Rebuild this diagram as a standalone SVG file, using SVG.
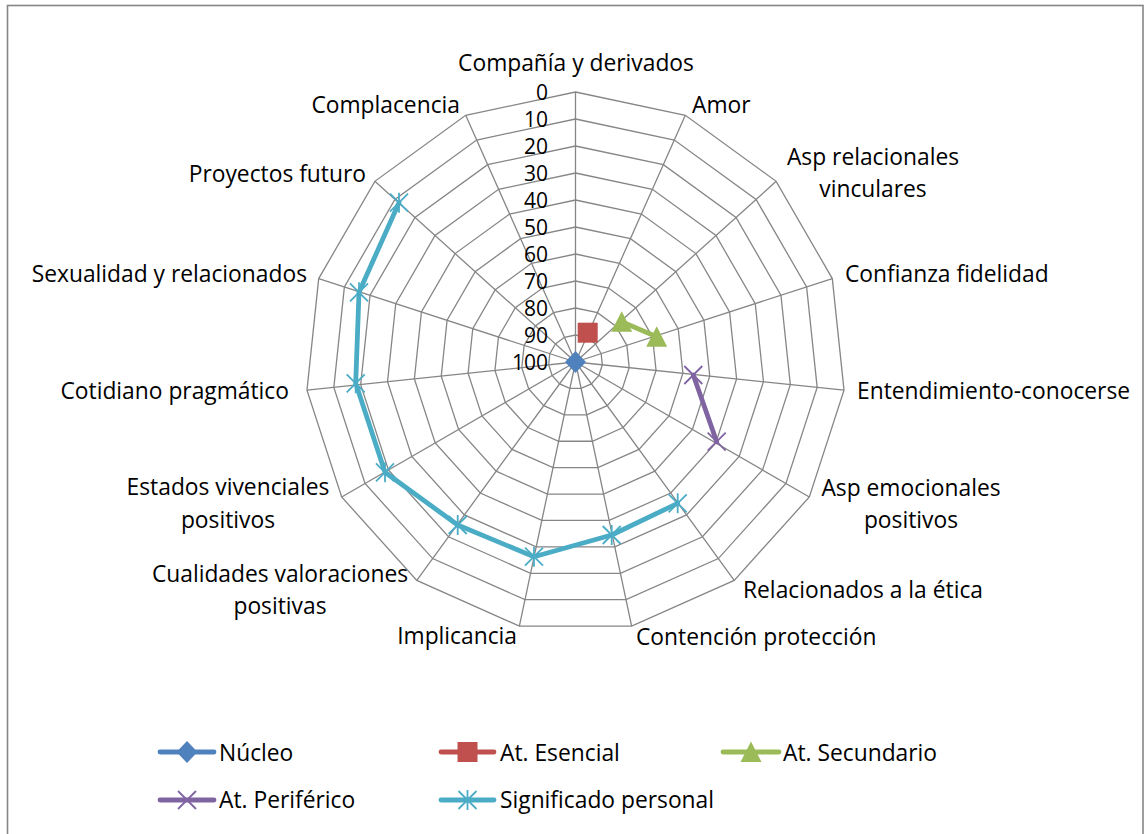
<svg xmlns="http://www.w3.org/2000/svg" xmlns:xlink="http://www.w3.org/1999/xlink" width="1148" height="834" viewBox="0 0 1148 834">
  <style>
    text { font-family: "Open Sans", "Liberation Sans", sans-serif; font-size: 22.8px; fill: #000; }
    .grid { fill: none; stroke: #868686; }
    .num { text-anchor: end; font-size: 21px; }
    .mid { text-anchor: middle; }
    .end { text-anchor: end; }
    .ser { fill: none; stroke-width: 4.8; stroke-linejoin: round; stroke-linecap: round; }
  </style>
  <defs>
    <polygon id="ring" points="0,-270 109.82,-246.66 200.65,-180.67 256.79,-83.43 268.52,28.22 233.83,135 158.7,218.43 56.14,264.1 -56.14,264.1 -158.7,218.43 -233.83,135 -268.52,28.22 -256.79,-83.43 -200.65,-180.67 -109.82,-246.66"/>
    <polygon id="m-diamond" points="0,-11 10.5,0 0,11 -10.5,0" fill="#4F81BD"/>
    <rect id="m-square" x="-10" y="-10" width="20" height="20" fill="#C0504D"/>
    <polygon id="m-tri" points="0,-10.5 10.5,10 -10.5,10" fill="#9BBB59"/>
    <path id="m-x" d="M-9,-9L9,9M9,-9L-9,9" stroke="#8064A2" stroke-width="1.8" fill="none"/>
    <path id="m-star" d="M-9,-9L9,9M9,-9L-9,9M0,-10L0,10" stroke="#4BACC6" stroke-width="1.8" fill="none"/>
  </defs>

  <rect id="frame" x="7.5" y="5.5" width="1135.5" height="840" fill="#fff" stroke="#868686" stroke-width="1.6"/>

  <g id="grid" class="grid">
    <use xlink:href="#ring" transform="translate(575.5 362) scale(1)" stroke-width="1.3"/>
    <use xlink:href="#ring" transform="translate(575.5 362) scale(0.9)" stroke-width="1.444"/>
    <use xlink:href="#ring" transform="translate(575.5 362) scale(0.8)" stroke-width="1.625"/>
    <use xlink:href="#ring" transform="translate(575.5 362) scale(0.7)" stroke-width="1.857"/>
    <use xlink:href="#ring" transform="translate(575.5 362) scale(0.6)" stroke-width="2.167"/>
    <use xlink:href="#ring" transform="translate(575.5 362) scale(0.5)" stroke-width="2.6"/>
    <use xlink:href="#ring" transform="translate(575.5 362) scale(0.4)" stroke-width="3.25"/>
    <use xlink:href="#ring" transform="translate(575.5 362) scale(0.3)" stroke-width="4.333"/>
    <use xlink:href="#ring" transform="translate(575.5 362) scale(0.2)" stroke-width="6.5"/>
    <use xlink:href="#ring" transform="translate(575.5 362) scale(0.1)" stroke-width="13"/>
    <path transform="translate(575.5 362)" stroke-width="1.3" d="M0,0L0,-270M0,0L109.82,-246.66M0,0L200.65,-180.67M0,0L256.79,-83.43M0,0L268.52,28.22M0,0L233.83,135M0,0L158.7,218.43M0,0L56.14,264.1M0,0L-56.14,264.1M0,0L-158.7,218.43M0,0L-233.83,135M0,0L-268.52,28.22M0,0L-256.79,-83.43M0,0L-200.65,-180.67M0,0L-109.82,-246.66"/>
  </g>

  <g id="axis-values">
    <text class="num" x="548" y="100">0</text>
    <text class="num" x="548" y="127">10</text>
    <text class="num" x="548" y="154">20</text>
    <text class="num" x="548" y="181">30</text>
    <text class="num" x="548" y="208">40</text>
    <text class="num" x="548" y="235">50</text>
    <text class="num" x="548" y="262">60</text>
    <text class="num" x="548" y="289">70</text>
    <text class="num" x="548" y="316">80</text>
    <text class="num" x="548" y="343">90</text>
    <text class="num" x="548" y="370">100</text>
  </g>

  <g id="category-labels">
    <text class="mid" x="576" y="71">Compañía y derivados</text>
    <text x="692" y="112.5">Amor</text>
    <text class="mid" x="873" y="165">Asp relacionales</text>
    <text class="mid" x="873" y="197">vinculares</text>
    <text x="845" y="282">Confianza fidelidad</text>
    <text x="857" y="399">Entendimiento-conocerse</text>
    <text class="mid" x="911" y="496">Asp emocionales</text>
    <text class="mid" x="911" y="527.5">positivos</text>
    <text x="743" y="598">Relacionados a la ética</text>
    <text x="636" y="645">Contención protección</text>
    <text class="end" x="517" y="644">Implicancia</text>
    <text class="mid" x="280" y="582">Cualidades valoraciones</text>
    <text class="mid" x="280" y="614">positivas</text>
    <text class="mid" x="228" y="494.5">Estados vivenciales</text>
    <text class="mid" x="228" y="528">positivos</text>
    <text class="end" x="289" y="399">Cotidiano pragmático</text>
    <text class="end" x="307" y="282">Sexualidad y relacionados</text>
    <text class="end" x="366" y="182">Proyectos futuro</text>
    <text class="end" x="460" y="112.5">Complacencia</text>
  </g>

  <g id="series-nucleo">
    <use xlink:href="#m-diamond" x="575.5" y="362"/>
  </g>
  <g id="series-esencial">
    <use xlink:href="#m-square" x="587.7" y="332.7"/>
  </g>
  <g id="series-secundario">
    <path class="ser" stroke="#9BBB59" d="M621.7,321.7L656.7,336.7"/>
    <use xlink:href="#m-tri" x="621.7" y="321.7"/>
    <use xlink:href="#m-tri" x="656.7" y="336.7"/>
  </g>
  <g id="series-periferico">
    <path class="ser" stroke="#8064A2" d="M693.3,375L716.7,441.7"/>
    <use xlink:href="#m-x" x="693.3" y="375"/>
    <use xlink:href="#m-x" x="716.7" y="441.7"/>
  </g>
  <g id="series-significado">
    <polyline class="ser" stroke="#4BACC6" points="677.7,503.3 611.7,535 534,556.7 457.7,525 385,472.3 355.7,383.3 359,292.3 399,202.7"/>
    <use xlink:href="#m-star" x="677.7" y="503.3"/>
    <use xlink:href="#m-star" x="611.7" y="535"/>
    <use xlink:href="#m-star" x="534" y="556.7"/>
    <use xlink:href="#m-star" x="457.7" y="525"/>
    <use xlink:href="#m-star" x="385" y="472.3"/>
    <use xlink:href="#m-star" x="355.7" y="383.3"/>
    <use xlink:href="#m-star" x="359" y="292.3"/>
    <use xlink:href="#m-star" x="399" y="202.7"/>
  </g>

  <g id="legend">
    <g id="legend-nucleo">
      <path class="ser" stroke="#4F81BD" d="M160,752L214,752"/>
      <use xlink:href="#m-diamond" x="187" y="752"/>
      <text x="219" y="760.7">Núcleo</text>
    </g>
    <g id="legend-esencial">
      <path class="ser" stroke="#C0504D" d="M441,752L494,752"/>
      <use xlink:href="#m-square" x="467.5" y="752"/>
      <text x="500" y="760.7">At. Esencial</text>
    </g>
    <g id="legend-secundario">
      <path class="ser" stroke="#9BBB59" d="M723,752L779,752"/>
      <use xlink:href="#m-tri" x="751" y="752"/>
      <text x="783" y="760.7">At. Secundario</text>
    </g>
    <g id="legend-periferico">
      <path class="ser" stroke="#8064A2" d="M160,800L214,800"/>
      <use xlink:href="#m-x" x="187" y="800"/>
      <text x="219" y="808.3">At. Periférico</text>
    </g>
    <g id="legend-significado">
      <path class="ser" stroke="#4BACC6" d="M441,800L494,800"/>
      <use xlink:href="#m-star" x="467.5" y="800"/>
      <text x="500" y="808.3">Significado personal</text>
    </g>
  </g>
</svg>
